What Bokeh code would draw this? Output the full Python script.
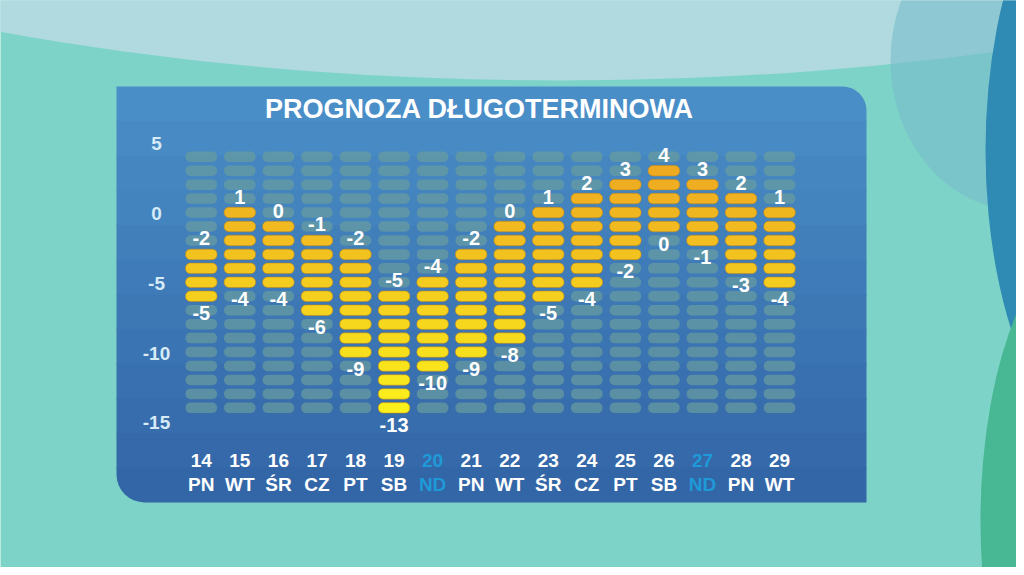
import numpy as np
from bokeh.plotting import figure
from bokeh.models import Range1d, BoxAnnotation, ColumnDataSource
from bokeh.core.properties import value
from bokeh.embed import file_html
from bokeh.resources import INLINE

# ---------------- data ----------------
DAYS = ["14", "15", "16", "17", "18", "19", "20", "21",
        "22", "23", "24", "25", "26", "27", "28", "29"]
WEEKDAYS = ["PN", "WT", "ŚR", "CZ", "PT", "SB", "ND", "PN",
            "WT", "ŚR", "CZ", "PT", "SB", "ND", "PN", "WT"]
T_MAX = [-2, 1, 0, -1, -2, -5, -4, -2, 0, 1, 2, 3, 4, 3, 2, 1]
T_MIN = [-5, -4, -4, -6, -9, -13, -10, -9, -8, -5, -4, -2, 0, -1, -3, -4]
SCALE_TOP = 5        # highest segment of the thermometer columns
SCALE_BOTTOM = -13   # lowest segment
Y_TICKS = [5, 0, -5, -10, -15]
TITLE = "PROGNOZA DŁUGOTERMINOWA"

# ---------------- layout / style ----------------
W, H = 1016, 567
COL_PX, COL0_PX = 38.55, 200.8     # px per column, px of first column centre
DEG_PX, DEG0_PX = 13.95, 226.0     # px per degree, px (from top) of 0 degrees

def X(px):
    return (px - COL0_PX) / COL_PX

def Y(px):
    return (DEG0_PX - px) / DEG_PX

BG = "#7dd3c7"
GRAY_SEG = "#6a9c9e"
FONT = value("Liberation Sans")
SUNDAY_BLUE = "#1f9ad8"

p = figure(width=W, height=H, output_backend="svg", toolbar_location=None,
           x_range=Range1d(X(0), X(W)), y_range=Range1d(Y(H), Y(0)),
           x_axis_location=None, y_axis_location=None, min_border=0,
           background_fill_color=BG, border_fill_color=BG,
           outline_line_color=None)
p.grid.visible = False

# decorative background swooshes
p.ellipse(x=[X(560)], y=[Y(-420)], width=2600 / COL_PX, height=1000 / DEG_PX,
          fill_color="#b0dadf", line_color=None, level="underlay")
p.ellipse(x=[X(1020)], y=[Y(60)], width=260 / COL_PX, height=300 / DEG_PX,
          fill_color="#78bccb", fill_alpha=0.6, line_color=None, level="underlay")
p.ellipse(x=[X(1135)], y=[Y(150)], width=300 / COL_PX, height=640 / DEG_PX,
          fill_color="#2f8ab4", line_color=None, level="underlay")
p.ellipse(x=[X(1110)], y=[Y(520)], width=260 / COL_PX, height=600 / DEG_PX,
          fill_color="#48b793", line_color=None, level="underlay")

# panel with vertical gradient
P_L, P_R, P_T, P_B = 116, 866, 86, 502
N_STRIPS = 12
c_top = np.array([0x4a, 0x8e, 0xc8])
c_bot = np.array([0x33, 0x66, 0xa6])
edges = np.linspace(P_T, P_B, N_STRIPS + 1)
for k in range(N_STRIPS):
    c = (c_top + (c_bot - c_top) * (k / (N_STRIPS - 1))).astype(int)
    rad = (0, 0, 0, 0)
    if k == 0:
        rad = (0, 24, 0, 0)
    elif k == N_STRIPS - 1:
        rad = (0, 0, 0, 28)
    bottom_px = edges[k + 1] + (0 if k == N_STRIPS - 1 else 1)
    p.add_layout(BoxAnnotation(left=X(P_L), right=X(P_R), top=Y(edges[k]),
                               bottom=Y(bottom_px),
                               fill_color="#%02x%02x%02x" % tuple(c), fill_alpha=1.0,
                               line_color=None, border_radius=rad, level="underlay"))

# segments
cols = np.arange(len(DAYS))
gx, gy, yx, yy, yc = [], [], [], [], []
c_hot = np.array([0xee, 0xa6, 0x22])
c_cold = np.array([0xfa, 0xf0, 0x1c])
for i in cols:
    for v in range(SCALE_BOTTOM, SCALE_TOP + 1):
        if T_MIN[i] <= v <= T_MAX[i]:
            t = (v - SCALE_BOTTOM) / (SCALE_TOP - SCALE_BOTTOM)
            c = (c_cold + (c_hot - c_cold) * t).astype(int)
            yx.append(i); yy.append(v); yc.append("#%02x%02x%02x" % tuple(c))
        else:
            gx.append(i); gy.append(v)

p.rect(x=gx, y=gy, width=0.82, height=10.5, height_units="screen",
       fill_color=GRAY_SEG, fill_alpha=0.7, line_color=None, border_radius=5)
p.rect(x=yx, y=yy, width=0.82, height=10.5, height_units="screen",
       fill_color=yc, line_color="#c8860e", line_alpha=0.55, line_width=1,
       border_radius=5)

# value labels
lab = dict(text_font=FONT, text_font_style="bold", text_font_size="20px",
           text_color="white", text_align="center", text_baseline="middle")
p.text(x=cols, y=T_MAX, text=[str(v) for v in T_MAX], y_offset=-16, **lab)
p.text(x=cols, y=T_MIN, text=[str(v) for v in T_MIN], y_offset=17, **lab)

# y scale labels
p.text(x=[X(156)] * len(Y_TICKS), y=Y_TICKS, text=[str(t) for t in Y_TICKS],
       y_offset=-13, text_font=FONT, text_font_style="bold", text_font_size="19px",
       text_color="#d6ebf7", text_align="center", text_baseline="middle")

# day labels
day_colors = [SUNDAY_BLUE if w == "ND" else "white" for w in WEEKDAYS]
dsrc = ColumnDataSource(dict(x=cols, d=DAYS, w=WEEKDAYS, c=day_colors))
p.text(x="x", y=Y(460), text="d", text_color="c", source=dsrc, text_font=FONT,
       text_font_style="bold", text_font_size="19px", text_align="center",
       text_baseline="middle")
p.text(x="x", y=Y(484), text="w", text_color="c", source=dsrc, text_font=FONT,
       text_font_style="bold", text_font_size="19px", text_align="center",
       text_baseline="middle")

# title
p.text(x=[X(479)], y=[Y(108)], text=[TITLE], text_font=FONT, text_font_style="bold",
       text_font_size="27px", text_color="white", text_align="center",
       text_baseline="middle")

open("out.html", "w").write(file_html(p, INLINE))
